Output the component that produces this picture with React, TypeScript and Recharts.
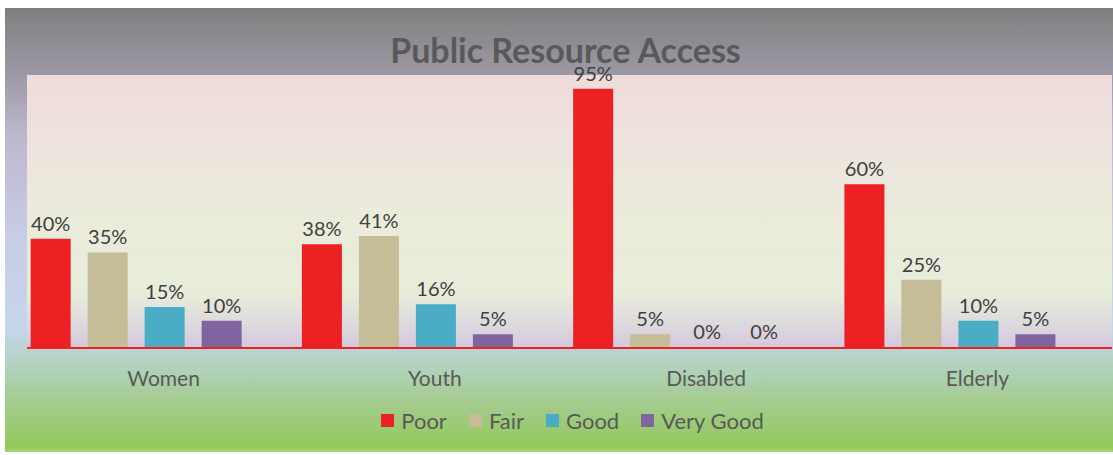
import React from 'react';
import { BarChart, Bar, XAxis, YAxis, CartesianGrid, Legend, LabelList } from 'recharts';

const groups = ['Women', 'Youth', 'Disabled', 'Elderly'];
const poor = [40, 38, 95, 60];
const fair = [35, 41, 5, 25];
const good = [15, 16, 0, 10];
const veryGood = [10, 5, 0, 5];

const seriesNames = ['Poor', 'Fair', 'Good', 'Very Good'];
const seriesColors = ['#ed2024', '#c4bd97', '#4bacc6', '#8064a2'];

const data = groups.map((g, i) => ({
  group: g,
  Poor: poor[i],
  Fair: fair[i],
  Good: good[i],
  'Very Good': veryGood[i],
}));

const FONT = 'Lato, "Open Sans", sans-serif';

const LegendBox = () => (
  <div
    style={{
      height: 34,
      display: 'flex',
      justifyContent: 'center',
      alignItems: 'center',
      fontFamily: FONT,
      fontSize: 22,
      color: '#595959',
      paddingLeft: 6,
    }}
  >
    {seriesNames.map((n, i) => (
      <div key={n} style={{ display: 'flex', alignItems: 'center', marginRight: i < 3 ? 22 : 0 }}>
        <span
          style={{
            width: 13,
            height: 13,
            background: seriesColors[i],
            display: 'inline-block',
            marginRight: 7,
          }}
        />
        <span>{n}</span>
      </div>
    ))}
  </div>
);

export default function App() {
  return (
    <div
      style={{
        position: 'absolute',
        left: 5,
        top: 8,
        width: 1108,
        height: 444,
        background:
          'linear-gradient(to bottom, #7f7f7f 0%, #9d99a5 15%, #bdb6cd 28%, #c8cbe5 50%, #c5d6eb 72%, #b4d3c8 79%, #a5cc93 88%, #93c95b 99%, #a8d57e 100%)',
      }}
    >
      <svg width={0} height={0} style={{ position: 'absolute' }}>
        <defs>
          <linearGradient id="plotBg" x1="0" y1="0" x2="0" y2="1">
            <stop offset="0%" stopColor="#f0dbdb" />
            <stop offset="30%" stopColor="#ede5dd" />
            <stop offset="50%" stopColor="#ebebdc" />
            <stop offset="80%" stopColor="#e8edda" />
            <stop offset="88%" stopColor="#e0dfdd" />
            <stop offset="100%" stopColor="#d4c8de" />
          </linearGradient>
        </defs>
      </svg>
      <div
        style={{
          position: 'absolute',
          left: 0,
          width: 1121,
          top: 22,
          textAlign: 'center',
          fontFamily: FONT,
          fontWeight: 700,
          fontSize: 34,
          color: '#595959',
          lineHeight: '40px',
        }}
      >
        Public Resource Access
      </div>
      <BarChart
        width={1108}
        height={444}
        data={data}
        margin={{ top: 67, right: 1, left: 22, bottom: 15 }}
        barCategoryGap="11.3%"
        barGap={17}
      >
        <CartesianGrid horizontal={false} vertical={false} fill="url(#plotBg)" />
        <XAxis
          dataKey="group"
          height={55}
          tickSize={0}
          tickMargin={23}
          padding={{ left: -27, right: 27 }}
          stroke="#ed2024"
          strokeWidth={2}
          tick={{ fill: '#595959', fontSize: 21, fontFamily: FONT, dx: 28 }}
        />
        <YAxis hide domain={[0, 100]} />
        <Legend verticalAlign="bottom" content={<LegendBox />} />
        {seriesNames.map((n, i) => (
          <Bar key={n} dataKey={n} fill={seriesColors[i]} minPointSize={1} isAnimationActive={false}>
            <LabelList
              dataKey={n}
              position="top"
              offset={8}
              formatter={(v: any) => `${v}%`}
              style={{ fill: '#404040', fontSize: 20, fontFamily: FONT }}
            />
          </Bar>
        ))}
      </BarChart>
    </div>
  );
}
